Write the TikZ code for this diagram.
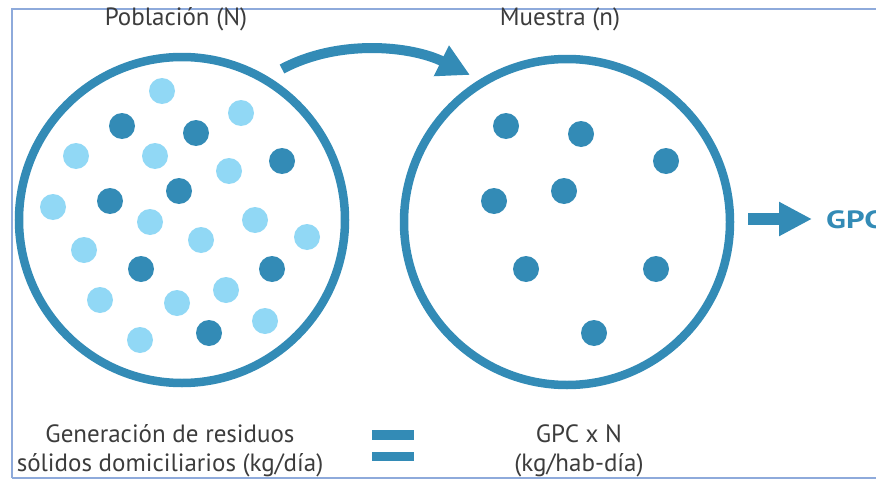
\documentclass[tikz,border=0pt]{standalone}
\usepackage{fontspec}
\setmainfont{PT Sans}
\usetikzlibrary{arrows.meta}
\definecolor{ringblue}{RGB}{51,139,182}
\definecolor{lightdot}{RGB}{145,216,245}
\definecolor{framecol}{RGB}{142,170,219}
\definecolor{txtgray}{RGB}{60,60,60}
\tikzset{
  ring/.style={circle, draw=ringblue, line width=8.5pt, minimum size=326pt, inner sep=0pt},
  dk/.style={fill=ringblue},
  lt/.style={fill=lightdot},
  lbl/.style={text=txtgray, font=\fontsize{25}{29}\selectfont, align=center, inner sep=0pt},
  bigarrow/.style={draw=ringblue, line width=10pt, -{Triangle[length=32pt,width=32pt]}},
  sidearrow/.style={draw=ringblue, line width=12pt, -{Triangle[length=33pt,width=32pt]}},
}
\begin{document}
\begin{tikzpicture}[x=1pt,y=-1pt]
\useasboundingbox (0,0) rectangle (876,479);
% frame
\draw[framecol, line width=2pt] (12,478) -- (12,9) -- (890,9);
\draw[framecol, line width=1.5pt] (12,478) -- (890,478);
% circles
\node[ring] (pop) at (182,220) {};
\node[ring] (mue) at (567,222) {};
% dots population
\foreach \x/\y in {162/91,241/113,76/156,155/156,229/171,53/207,150/222,255/220,201/240,307/237,84/250,100/300,177/303,226/290,265/321,140/340}
  \fill[lt] (\x,\y) circle (13);
\foreach \x/\y in {122/126,196/133,282/161,110/201,179/191,141/269,272/269,209/333}
  \fill[dk] (\x,\y) circle (13);
% dots sample
\foreach \x/\y in {506/126,581/134,666/161,494/201,564/191,526/269,656/269,594/333}
  \fill[dk] (\x,\y) circle (13);
% labels
\node[lbl] (tpop) at (176,19) {Población (N)};
\node[lbl] (tmue) at (560,19) {Muestra (n)};
\node[lbl] (tgen) at (170,451) {Generación de residuos\\sólidos domiciliarios (kg/día)};
\node[lbl] (tgpc) at (579,451) {GPC x N\\(kg/hab-día)};
% equals sign
\fill[ringblue] (372,430) rectangle (414,440);
\fill[ringblue] (372,452) rectangle (414,461);
% curved arrow
\coordinate (ca) at (282,69);
\coordinate (cb) at (470,75);
\draw[bigarrow] (ca) .. controls (339,38.5) and (411.5,46) .. (cb);
% right arrow
\coordinate (ra) at (748,219);
\coordinate (rb) at (812,219);
\draw[sidearrow] (ra) -- (rb);
\node[anchor=west, text=ringblue, font=\fontsize{25}{30}\selectfont\bfseries, inner sep=0pt] (gpc) at (826,220) {\scalebox{1.3}[1]{GPC}};
\end{tikzpicture}
\end{document}
